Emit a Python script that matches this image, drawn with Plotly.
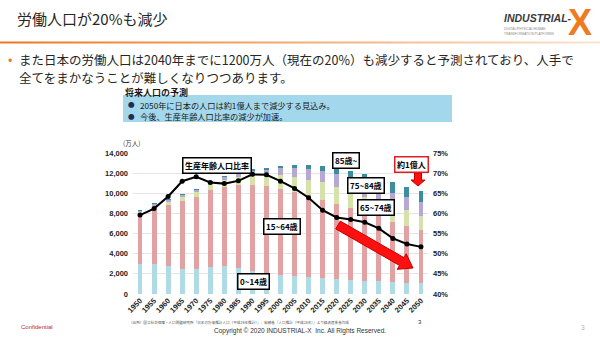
import numpy as np
import plotly.graph_objects as go

# ---- data (万人) ----
years = [str(y) for y in range(1950, 2051, 5)]
age_0_14 = [2943, 3012, 2807, 2517, 2482, 2722, 2751, 2603, 2249, 2001, 1847,
            1752, 1680, 1595, 1507, 1407, 1321, 1246, 1194, 1138, 1077]
age_15_64 = [4966, 5473, 6000, 6693, 7157, 7581, 7883, 8251, 8590, 8716, 8622,
             8409, 8103, 7728, 7406, 7170, 6875, 6494, 5978, 5584, 5275]
age_65_74 = [309, 338, 387, 453, 516, 602, 699, 792, 892, 1109, 1301,
             1407, 1517, 1755, 1747, 1497, 1428, 1522, 1681, 1643, 1424]
age_75_84 = [99, 114, 141, 167, 199, 247, 309, 388, 520, 580, 703,
             917, 1100, 1130, 1252, 1460, 1460, 1250, 1206, 1258, 1386]
age_85_up = [7, 9, 12, 17, 25, 40, 53, 67, 103, 150, 224,
             293, 383, 496, 620, 720, 830, 1010, 1030, 1018, 1030]
# 生産年齢人口比率 (%)
working_ratio = [59.6, 61.2, 64.2, 68.0, 69.1, 67.7, 67.4, 68.1, 69.7, 69.6, 68.0,
                 66.2, 63.9, 60.8, 59.0, 58.5, 57.8, 56.3, 53.8, 52.4, 51.7]

series = [
    ("0~14歳", age_0_14, "#aedbe5"),
    ("15~64歳", age_15_64, "#e2a2a4"),
    ("65~74歳", age_65_74, "#d5e2a9"),
    ("75~84歳", age_75_84, "#b6a8d2"),
    ("85歳~", age_85_up, "#3c8d9e"),
]

W, H = 600, 338
PL, PR, PT, PB = 133, 428, 153, 294  # plot area in pixels


def fx(x):
    return (x - PL) / (PR - PL)


def fy(y):
    return (PB - y) / (PB - PT)


JP = "Noto Sans CJK JP"
NUM = "Liberation Sans"

fig = go.Figure()
for name, vals, col in series:
    fig.add_trace(go.Bar(x=years, y=vals, name=name, marker_color=col,
                         marker_line_width=0, width=0.35))

fig.add_trace(go.Scatter(x=years, y=[v / 100 for v in working_ratio], yaxis="y2",
                         mode="lines+markers", line=dict(color="black", width=2),
                         marker=dict(color="black", size=5), name="生産年齢人口比率"))

shapes = []
annotations = []

# orange rule under the title, fading to the right
n_seg = 40
c0 = np.array([236, 120, 30])
c1 = np.array([252, 226, 204])
for i in range(n_seg):
    t = i / (n_seg - 1)
    c = (c0 * (1 - t) + c1 * t).astype(int)
    x0 = i * W / n_seg
    x1 = (i + 1) * W / n_seg
    shapes.append(dict(type="line", xref="paper", yref="paper",
                       x0=fx(x0), x1=fx(x1), y0=fy(42.5), y1=fy(42.5),
                       line=dict(color=f"rgb({c[0]},{c[1]},{c[2]})", width=2)))

# light-blue note box
shapes.append(dict(type="rect", xref="paper", yref="paper",
                   x0=fx(123), x1=fx(452), y0=fy(95), y1=fy(122),
                   fillcolor="#a3d8ec", line=dict(width=0), layer="below"))


def text(x, y, s, size, color="#222222", family=JP, weight="normal",
         xanchor="left", yanchor="middle", **kw):
    annotations.append(dict(x=fx(x), y=fy(y), xref="paper", yref="paper",
                            text=s, showarrow=False, xanchor=xanchor, yanchor=yanchor,
                            borderpad=0,
                            font=dict(size=size, color=color, family=family, weight=weight),
                            **kw))


def boxed(x, y, s, border="black"):
    annotations.append(dict(x=fx(x), y=fy(y), xref="paper", yref="paper",
                            text=s, showarrow=False, xanchor="center", yanchor="middle",
                            bgcolor="white", bordercolor=border, borderwidth=1.5,
                            borderpad=1.5,
                            font=dict(size=8, color="black", family=JP, weight="bold")))


# title and logo
text(16, 18, "労働人口が20%も減少", 15, color="#262626")
text(503, 18, "<i>INDUSTRIAL-</i>", 10.5, color="#3a3a3a", family=NUM, weight="bold")
text(567, 22, "X", 36, color="#f07b1e", family=NUM, weight="bold")
text(503, 29, "DIGITAL/PHYSICAL/HUMAN", 3.2, color="#8a8a8a", family=NUM)
text(503, 33.5, "TRANSFORMATION PLATFORMS", 3.2, color="#8a8a8a", family=NUM)

# bullet text
text(7, 59, "•", 13, color="#f07b1e")
text(18, 59.5,
     "また日本の労働人口は2040年までに1200万人（現在の20%）も減少すると予測されており、人手で",
     12.5, color="#262626")
text(18, 77, "全てをまかなうことが難しくなりつつあります。", 12.5, color="#262626")
text(124, 92, "将来人口の予測", 9, color="#1a1a1a", weight="bold")
text(127, 104, "●", 6.5, color="#1f2f4f")
text(139, 104.5, "2050年に日本の人口は約1億人まで減少する見込み。", 8.2, color="#1a1a1a")
text(127, 116, "●", 6.5, color="#1f2f4f")
text(139, 116.5, "今後、生産年齢人口比率の減少が加速。", 8.2, color="#1a1a1a")
text(122, 143, "(万人)", 6.5, color="#333333")

# labels inside the chart
boxed(217, 165, "生産年齢人口比率")
boxed(282, 226, "15~64歳")
boxed(253, 281, "0~14歳")
boxed(346, 160, "85歳~")
boxed(366, 185, "75~84歳")
boxed(376, 207, "65~74歳")
boxed(411, 164, "約1億人", border="#e02020")


def arrow_path(p0, p1, half_w, head_half, head_len):
    p0 = np.array(p0, float)
    p1 = np.array(p1, float)
    d = p1 - p0
    u = d / np.linalg.norm(d)
    n = np.array([-u[1], u[0]])
    neck = p1 - u * head_len
    pts = [p0 + n * half_w, neck + n * half_w, neck + n * head_half, p1,
           neck - n * head_half, neck - n * half_w, p0 - n * half_w]
    return "M " + " L ".join(f"{fx(px):.5f},{fy(py):.5f}" for px, py in pts) + " Z"


# big downward trend arrow and the small marker arrow under 約1億人
shapes.append(dict(type="path", xref="paper", yref="paper",
                   path=arrow_path((338, 225), (413, 268), 4.5, 9, 13),
                   fillcolor="#ff1010", line=dict(color="#c00000", width=1)))
shapes.append(dict(type="path", xref="paper", yref="paper",
                   path=arrow_path((418, 173), (418, 186), 3.5, 7, 6),
                   fillcolor="#ff1010", line=dict(color="#c00000", width=1)))

# footer
text(20, 327, "Confidential", 6, color="#c0282d", family=NUM)
text(128, 322, "（出所）国立社会保障・人口問題研究所「日本の将来推計人口（平成29年推計）」、総務省「人口推計（平成28年）」より経済産業省作成",
     3.6, color="#555555")
text(420, 322, "3", 6, color="#333333", family=NUM, xanchor="center")
text(300, 331, "Copyright © 2020 INDUSTRIAL-X  Inc. All Rights Reserved.", 6.5,
     color="#333333", family=NUM, xanchor="center")
text(583, 327, "3", 6.5, color="#b0b0b0", family=NUM, xanchor="center")

tick_font = dict(size=7.5, color="#222222", family=NUM, weight="bold")

fig.update_layout(
    width=W, height=H,
    margin=dict(l=PL, r=W - PR, t=PT, b=H - PB),
    paper_bgcolor="white", plot_bgcolor="white",
    barmode="stack", bargap=0.6,
    showlegend=False,
    xaxis=dict(type="category", range=[-0.5, 20.5], tickangle=-45, tickfont=tick_font,
               showgrid=False, zeroline=False, showline=False, ticks="", ticklen=0),
    yaxis=dict(range=[0, 14000], dtick=2000, tickformat=",", tickfont=tick_font,
               showgrid=True, gridcolor="#e4e4e4", gridwidth=1, zeroline=False,
               showline=False, ticks="", ticklabelstandoff=4),
    yaxis2=dict(range=[0.40, 0.75], dtick=0.05, tickformat=".0%", tickfont=tick_font,
                overlaying="y", side="right", showgrid=False, zeroline=False,
                showline=False, ticks="", ticklabelstandoff=4),
    shapes=shapes,
    annotations=annotations,
)

fig.write_html("out.html")
